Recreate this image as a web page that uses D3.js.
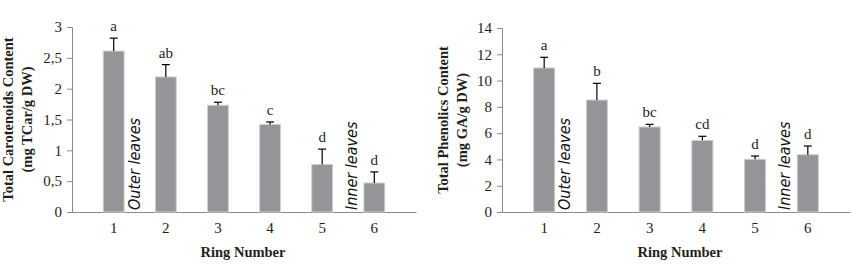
<!DOCTYPE html>
<html>
<head>
<meta charset="utf-8">
<script src="https://cdn.jsdelivr.net/npm/d3@7"></script>
<style>
  body { margin: 0; background: #fff; }
  svg { display: block; }
  .tick text { font-family: "Liberation Serif", "Times New Roman", serif; font-size: 15px; fill: #231f20; }
  .domain, .tick line { stroke: #8a8a8a; }
  .title { font-family: "Liberation Serif", serif; font-weight: bold; font-size: 14.5px; fill: #231f20; }
  .letter { font-family: "Liberation Serif", serif; font-size: 15px; fill: #231f20; }
  .note { font-family: "Liberation Sans Narrow", "DejaVu Sans Condensed", sans-serif; font-style: italic; font-size: 16px; fill: #111; }
</style>
</head>
<body>
<div id="vis"></div>
<script>
const WIDTH = 854;
const HEIGHT = 271;

// data
const rings = [1, 2, 3, 4, 5, 6];
const carotenoids = [2.61, 2.19, 1.73, 1.42, 0.77, 0.47];
const carotenoidsErr = [0.21, 0.2, 0.05, 0.04, 0.25, 0.18];
const carotenoidsLetters = ["a", "ab", "bc", "c", "d", "d"];
const carotenoidsTicks = [0, 0.5, 1, 1.5, 2, 2.5, 3];

const phenolics = [10.96, 8.52, 6.47, 5.45, 4.01, 4.36];
const phenolicsErr = [0.81, 1.27, 0.2, 0.31, 0.25, 0.66];
const phenolicsLetters = ["a", "b", "bc", "cd", "d", "d"];
const phenolicsTicks = [0, 2, 4, 6, 8, 10, 12, 14];

const svg = d3.select("#vis")
  .append("svg")
    .attr("width", WIDTH)
    .attr("height", HEIGHT);

const fmt = (d) => String(d).replace(".", ",");

function drawChart(opts) {
  const g = svg.append("g");

  const X_SCALE = d3.scaleBand()
    .domain(rings)
    .range([opts.left, opts.right])
    .padding(0.6);

  const Y_SCALE = d3.scaleLinear()
    .domain([0, opts.max])
    .range([opts.bottom, opts.top]);

  // y axis
  g.append("g")
    .attr("transform", `translate(${opts.left},0)`)
    .call(d3.axisLeft(Y_SCALE).tickValues(opts.ticks).tickFormat(fmt).tickSize(5).tickPadding(5));

  // x axis
  g.append("g")
    .attr("transform", `translate(0,${opts.bottom})`)
    .call(d3.axisBottom(X_SCALE).tickSize(0).tickPadding(10));

  // bars
  g.selectAll("rect.bar")
    .data(opts.values)
    .enter()
    .append("rect")
      .attr("class", "bar")
      .attr("x", (d, i) => X_SCALE(rings[i]))
      .attr("y", (d) => Y_SCALE(d))
      .attr("width", X_SCALE.bandwidth())
      .attr("height", (d) => opts.bottom - Y_SCALE(d))
      .attr("fill", "#939598")
      .attr("stroke", "#cfcfcf")
      .attr("stroke-width", 1);

  // error bars (upper only)
  const cx = (i) => X_SCALE(rings[i]) + X_SCALE.bandwidth() / 2;
  opts.values.forEach((v, i) => {
    const top = Y_SCALE(v + opts.err[i]);
    g.append("line")
      .attr("x1", cx(i)).attr("x2", cx(i))
      .attr("y1", Y_SCALE(v)).attr("y2", top)
      .attr("stroke", "#000").attr("stroke-width", 1.2);
    g.append("line")
      .attr("x1", cx(i) - 4).attr("x2", cx(i) + 4)
      .attr("y1", top).attr("y2", top)
      .attr("stroke", "#000").attr("stroke-width", 1.2);
    g.append("text")
      .attr("class", "letter")
      .attr("x", cx(i))
      .attr("y", top - 7)
      .attr("text-anchor", "middle")
      .text(opts.letters[i]);
  });

  // y title
  const midY = (opts.top + opts.bottom) / 2;
  g.append("text")
    .attr("class", "title")
    .attr("transform", `translate(${opts.titleX},${midY}) rotate(-90)`)
    .attr("text-anchor", "middle")
    .text(opts.title1);
  g.append("text")
    .attr("class", "title")
    .attr("transform", `translate(${opts.titleX + 19},${midY}) rotate(-90)`)
    .attr("text-anchor", "middle")
    .text(opts.title2);

  // x title
  g.append("text")
    .attr("class", "title")
    .attr("x", opts.xTitleX)
    .attr("y", 257)
    .attr("text-anchor", "middle")
    .style("font-size", "14.5px")
    .text("Ring Number");

  // leaves notes
  const step = X_SCALE.step();
  g.append("text")
    .attr("class", "note")
    .attr("transform", `translate(${cx(0) + step * 0.4 + 5},${opts.bottom - 2}) rotate(-90)`)
    .text("Outer leaves");
  g.append("text")
    .attr("class", "note")
    .attr("transform", `translate(${cx(5) - step * 0.45 + 6},${opts.bottom - 2}) rotate(-90)`)
    .text("Inner leaves");
}

drawChart({
  left: 72, right: 416, top: 27, bottom: 212, max: 3,
  ticks: carotenoidsTicks, values: carotenoids, err: carotenoidsErr, letters: carotenoidsLetters,
  title1: "Total Carotenoids Content", title2: "(mg TCar/g DW)",
  titleX: 13, xTitleX: 243
});

drawChart({
  left: 502, right: 850, top: 28, bottom: 212, max: 14,
  ticks: phenolicsTicks, values: phenolics, err: phenolicsErr, letters: phenolicsLetters,
  title1: "Total Phenolics Content", title2: "(mg GA/g DW)",
  titleX: 448, xTitleX: 680
});
</script>
</body>
</html>
